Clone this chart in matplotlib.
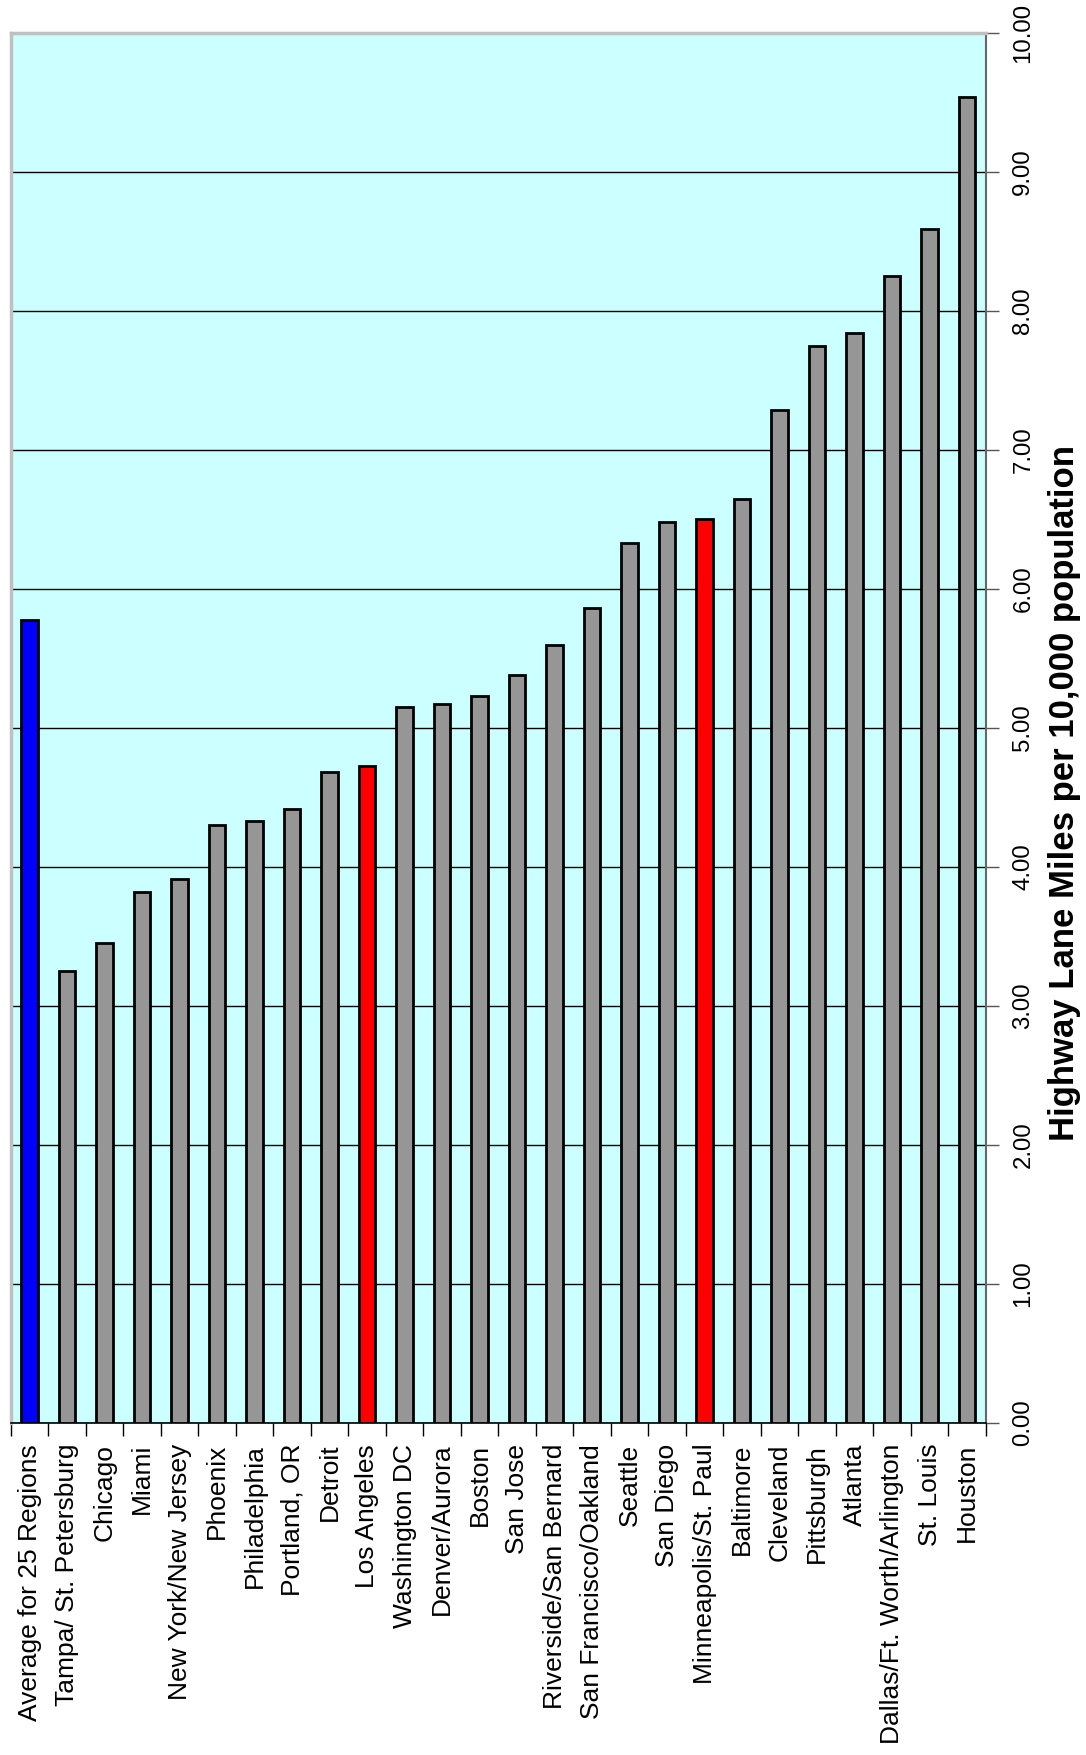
import matplotlib.pyplot as plt
import numpy as np

plt.rcParams['font.family'] = ['Liberation Sans', 'DejaVu Sans']

regions = ['Average for 25 Regions', 'Tampa/ St. Petersburg', 'Chicago', 'Miami',
           'New York/New Jersey', 'Phoenix', 'Philadelphia', 'Portland, OR', 'Detroit',
           'Los Angeles', 'Washington DC', 'Denver/Aurora', 'Boston', 'San Jose',
           'Riverside/San Bernard', 'San Francisco/Oakland', 'Seattle', 'San Diego',
           'Minneapolis/St. Paul', 'Baltimore', 'Cleveland', 'Pittsburgh', 'Atlanta',
           'Dallas/Ft. Worth/Arlington', 'St. Louis', 'Houston']
lane_miles = [5.78, 3.25, 3.45, 3.82, 3.91, 4.30, 4.33, 4.42, 4.68, 4.73, 5.15,
              5.17, 5.23, 5.38, 5.60, 5.86, 6.33, 6.48, 6.50, 6.65, 7.29, 7.75,
              7.84, 8.25, 8.59, 9.54]
highlight = {'Average for 25 Regions': '#0000FF', 'Los Angeles': '#FF0000',
             'Minneapolis/St. Paul': '#FF0000'}
ticks = [0, 1, 2, 3, 4, 5, 6, 7, 8, 9, 10]

colors = [highlight.get(r, '#969696') for r in regions]
x = np.arange(len(regions))

fig = plt.figure(figsize=(10.86, 17.55), dpi=100)
ax = fig.add_axes([0.0101, 0.1892, 0.8978, 0.792])
ax.set_facecolor('#CCFFFF')

ax.bar(x, lane_miles, width=0.44, color=colors, edgecolor='black', linewidth=2, zorder=3)

ax.set_xlim(-0.5, len(regions) - 0.5)
ax.set_ylim(0, 10)
ax.set_yticks(ticks)
ax.set_yticklabels(['%.2f' % t for t in ticks], rotation=90, va='center', fontsize=17.3)
ax.yaxis.tick_right()
ax.yaxis.set_label_position('right')
ax.set_ylabel('Highway Lane Miles per 10,000 population', fontsize=25,
              fontweight='bold')
ax.yaxis.set_label_coords(1048 / 1086, 1 - 793 / 1755, transform=fig.transFigure)
ax.grid(axis='y', color='black', linewidth=1.0, zorder=1)

ax.set_xticks(x)
ax.set_xticklabels(regions, rotation=90, fontsize=19)
ax.set_xticks(np.arange(-0.5, len(regions)), minor=True)
ax.tick_params(axis='x', which='major', length=0, pad=15)
ax.tick_params(axis='x', which='minor', length=9, width=1, color='black')
ax.tick_params(axis='y', length=9, width=1, color='#555555', pad=10)

ax.spines['left'].set_color('#C0C0C0')
ax.spines['left'].set_linewidth(2.5)
ax.spines['top'].set_color('#C0C0C0')
ax.spines['top'].set_linewidth(2.5)
ax.spines['right'].set_color('#666666')
ax.spines['right'].set_linewidth(1.5)
ax.spines['bottom'].set_color('black')
ax.spines['bottom'].set_linewidth(1.2)

plt.savefig('out.png')
